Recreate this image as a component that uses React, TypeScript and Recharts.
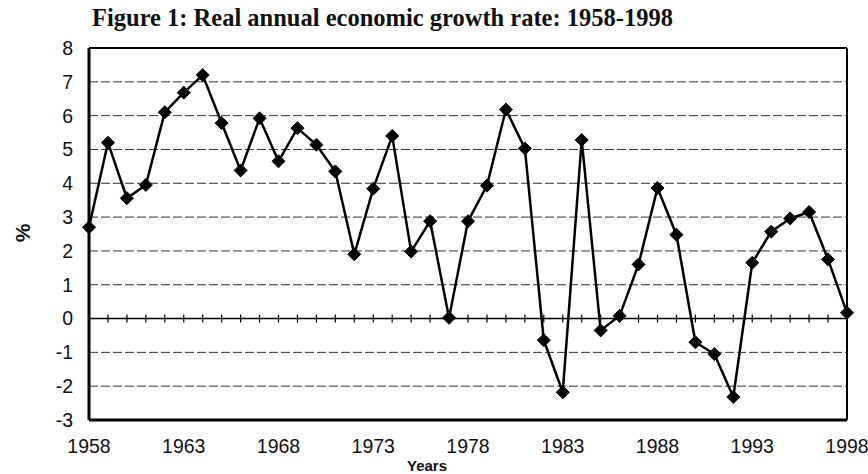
import React from "react";
import {
  LineChart,
  Line,
  XAxis,
  YAxis,
  CartesianGrid,
  ReferenceLine,
  ReferenceDot,
} from "recharts";

const years = [
  1958, 1959, 1960, 1961, 1962, 1963, 1964, 1965, 1966, 1967, 1968, 1969, 1970,
  1971, 1972, 1973, 1974, 1975, 1976, 1977, 1978, 1979, 1980, 1981, 1982, 1983,
  1984, 1985, 1986, 1987, 1988, 1989, 1990, 1991, 1992, 1993, 1994, 1995, 1996,
  1997, 1998,
];

const growth = [
  2.7, 5.2, 3.56, 3.95, 6.1, 6.68, 7.2, 5.78, 4.38, 5.92, 4.65, 5.63, 5.14,
  4.35, 1.9, 3.84, 5.4, 1.98, 2.88, 0.02, 2.88, 3.93, 6.18, 5.03, -0.64, -2.18,
  5.28, -0.35, 0.08, 1.6, 3.86, 2.48, -0.7, -1.05, -2.32, 1.65, 2.57, 2.96,
  3.15, 1.75, 0.17,
];

const xTicks = [1958, 1963, 1968, 1973, 1978, 1983, 1988, 1993, 1998];
const yTicks = [-3, -2, -1, 0, 1, 2, 3, 4, 5, 6, 7, 8];

const title = "Figure 1: Real annual economic growth rate: 1958-1998";
const yLabel = "%";
const xLabel = "Years";

const data = years.map((year, i) => ({ year, value: growth[i] }));

const Diamond = (props: any) => {
  const { cx, cy, index } = props;
  if (cx == null || cy == null) return null;
  const r = 6.5;
  return (
    <path
      key={`d-${index}`}
      d={`M${cx},${cy - r} L${cx + r},${cy} L${cx},${cy + r} L${cx - r},${cy} Z`}
      fill="#000"
      stroke="#000"
      strokeWidth={1}
    />
  );
};

const TickMark = (props: any) => {
  const { cx, cy } = props;
  if (cx == null || cy == null) return null;
  return <line x1={cx} x2={cx} y1={cy - 4} y2={cy + 4} stroke="#000" strokeWidth={1.2} />;
};

export default function App() {
  return (
    <div
      style={{
        position: "absolute",
        left: 0,
        top: 0,
        width: 868,
        height: 474,
        background: "#fff",
      }}
    >
      <LineChart
        width={868}
        height={474}
        data={data}
        margin={{ top: 48, right: 21, left: 29, bottom: 0 }}
      >
        <CartesianGrid
          vertical={false}
          stroke="#333"
          strokeDasharray="9 3"
          strokeWidth={1}
        />
        <XAxis
          dataKey="year"
          type="number"
          domain={[1958, 1998]}
          ticks={xTicks}
          tickLine={false}
          tickSize={0}
          tickMargin={19}
          height={54}
          axisLine={{ stroke: "#000", strokeWidth: 3 }}
          tick={{ fill: "#111", fontSize: 19.5, fontFamily: "Liberation Sans, Arial, sans-serif" }}
          interval={0}
        />
        <YAxis
          type="number"
          domain={[-3, 8]}
          ticks={yTicks}
          tickLine={false}
          tickSize={0}
          tickMargin={16}
          width={60}
          axisLine={{ stroke: "#000", strokeWidth: 3 }}
          tick={{ fill: "#111", fontSize: 19.5, fontFamily: "Liberation Sans, Arial, sans-serif" }}
          interval={0}
          allowDataOverflow
        />
        <ReferenceLine y={8} stroke="#000" strokeWidth={2} />
        <ReferenceLine x={1998} stroke="#000" strokeWidth={2} />
        <ReferenceLine y={0} stroke="#000" strokeWidth={1.5} />
        {years.map((y) => (
          <ReferenceDot key={`t-${y}`} x={y} y={0} r={0} shape={TickMark} />
        ))}
        <Line
          type="linear"
          dataKey="value"
          stroke="#000"
          strokeWidth={2.5}
          dot={Diamond}
          activeDot={false}
          isAnimationActive={false}
        />
        <text
          x={92}
          y={26}
          fontFamily="Liberation Serif, Times New Roman, serif"
          fontWeight="bold"
          fontSize={24.5}
          fill="#111"
        >
          {title}
        </text>
        <text
          x={22}
          y={233}
          transform="rotate(-90 22 233)"
          textAnchor="middle"
          dominantBaseline="central"
          fontFamily="Liberation Sans, Arial, sans-serif"
          fontWeight="bold"
          fontSize={21}
          fill="#111"
        >
          {yLabel}
        </text>
        <text
          x={427}
          y={471}
          textAnchor="middle"
          fontFamily="Liberation Sans, Arial, sans-serif"
          fontWeight="bold"
          fontSize={15}
          fill="#111"
        >
          {xLabel}
        </text>
      </LineChart>
    </div>
  );
}
